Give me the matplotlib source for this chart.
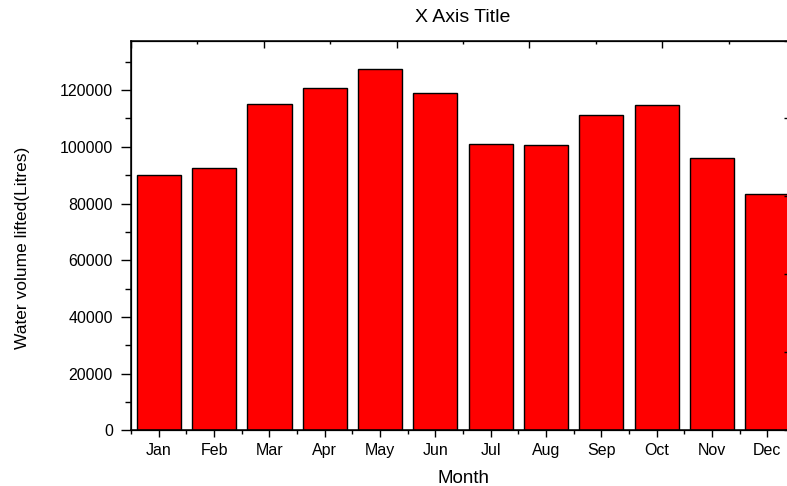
import matplotlib
matplotlib.use('Agg')
import matplotlib.pyplot as plt
from matplotlib.ticker import MultipleLocator, FixedLocator, NullFormatter
import numpy as np

plt.rcParams['font.family'] = ['Liberation Sans', 'DejaVu Sans']

# data
months = ['Jan', 'Feb', 'Mar', 'Apr', 'May', 'Jun',
          'Jul', 'Aug', 'Sep', 'Oct', 'Nov', 'Dec']
water = [90200, 92600, 115000, 120600, 127300, 118900,
         101000, 100500, 111400, 114900, 96200, 83200]
y_ticks = [0, 20000, 40000, 60000, 80000, 100000, 120000]

fig = plt.figure(figsize=(7.87, 4.86), dpi=100)
# axes run past the right edge of the figure, as in the reference
ax = fig.add_axes([0.1665, 0.1146, 0.8437, 0.802])

x = np.arange(len(months))
ax.bar(x, water, width=0.8, color='#ff0000', edgecolor='black', linewidth=1.0, zorder=2)

ax.set_xlim(-0.5, len(months) - 0.5)
ax.set_ylim(0, 137500)

ax.set_xticks(x)
ax.set_xticklabels(months, fontsize=11.5)
ax.xaxis.set_minor_locator(FixedLocator(np.arange(-0.5, len(months), 1.0)))
ax.set_yticks(y_ticks)
ax.set_yticklabels([str(v) for v in y_ticks], fontsize=11.5)
ax.yaxis.set_minor_locator(MultipleLocator(10000))

ax.tick_params(axis='y', which='major', direction='out', length=7, width=1.0, pad=6)
ax.tick_params(axis='y', which='minor', direction='out', length=4, width=1.0)
ax.tick_params(axis='x', which='major', direction='out', length=5, width=1.0, pad=4)
ax.tick_params(axis='x', which='minor', direction='out', length=3, width=1.0)

for s in ax.spines.values():
    s.set_linewidth(1.1)

ax.set_xlabel('Month', fontsize=13.5, labelpad=9)
ax.set_ylabel('Water volume lifted(Litres)', fontsize=12.5)
ax.yaxis.set_label_coords(-0.152, 0.467)

# Origin-style top and right axes with their own ticks
top = ax.twiny()
top.set_xlim(0, 1)
top.xaxis.set_major_locator(MultipleLocator(0.2))
top.xaxis.set_minor_locator(MultipleLocator(0.1))
top.xaxis.set_major_formatter(NullFormatter())
top.tick_params(axis='x', which='major', direction='in', length=5, width=1.0)
top.tick_params(axis='x', which='minor', direction='in', length=2.5, width=1.0)
top.set_xlabel('X Axis Title', fontsize=14, labelpad=10)

right = ax.twinx()
right.set_ylim(0, 1)
right.yaxis.set_major_locator(MultipleLocator(0.2))
right.yaxis.set_minor_locator(MultipleLocator(0.1))
right.yaxis.set_major_formatter(NullFormatter())
right.tick_params(axis='y', which='major', direction='in', length=8, width=1.0)
right.tick_params(axis='y', which='minor', direction='in', length=4, width=1.0)

fig.savefig('out.png', dpi=100)
